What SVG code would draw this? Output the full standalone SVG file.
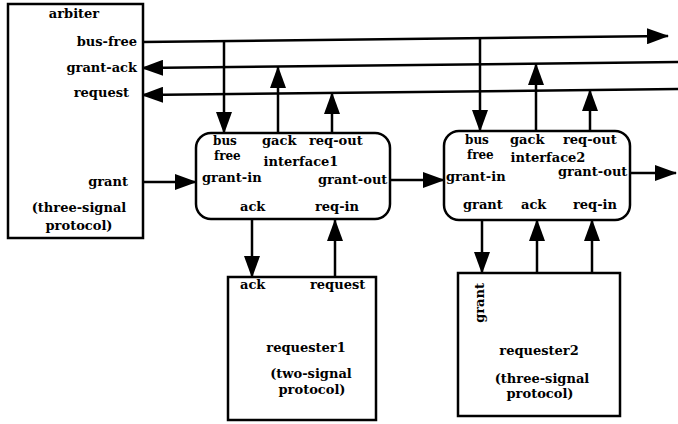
<svg xmlns="http://www.w3.org/2000/svg" width="678" height="424" viewBox="0 0 678 424">
<defs>
<marker id="ah" markerUnits="userSpaceOnUse" markerWidth="22" markerHeight="16" refX="21" refY="8" orient="auto">
<path d="M0,0 L22,8 L0,16 z" fill="#000"/>
</marker>
<style>
text{font-family:"DejaVu Serif","Liberation Serif",serif;font-weight:bold;font-size:13px;fill:#000}
.s{font-size:12px}
.m{text-anchor:middle}
.e{text-anchor:end}
.box{fill:#fff;stroke:#000;stroke-width:2.5}
.a{fill:none;stroke:#000;stroke-width:2.5;marker-end:url(#ah)}
</style>
</defs>
<rect width="678" height="424" fill="#fff"/>
<g id="connectors">
<path class="a" d="M142,42 L668,36"/>
<path class="a" d="M678,62 L142,68"/>
<path class="a" d="M678,89 L142,95"/>
<path class="a" d="M224,41 L224,133"/>
<path class="a" d="M278,133 L278,67"/>
<path class="a" d="M332,133 L332,93"/>
<path class="a" d="M142,182 L196,182"/>
<path class="a" d="M390,180 L444,180"/>
<path class="a" d="M480,38 L480,131"/>
<path class="a" d="M536,131 L536,64"/>
<path class="a" d="M590,131 L590,90"/>
<path class="a" d="M630,173 L676,173"/>
<path class="a" d="M252,219 L252,277"/>
<path class="a" d="M335,277 L335,220"/>
<path class="a" d="M482,220 L482,273"/>
<path class="a" d="M537,273 L537,220"/>
<path class="a" d="M592,273 L592,220"/>
</g>
<g id="arbiter">
<rect class="box" x="8" y="4" width="135" height="234"/>
<text class="m" x="74" y="18">arbiter</text>
<text class="e" x="137" y="46">bus-free</text>
<text class="e" x="137" y="72">grant-ack</text>
<text class="e" x="129" y="97">request</text>
<text class="e" x="128" y="186">grant</text>
<text class="m" x="79" y="212">(three-signal</text>
<text class="m" x="79" y="230">protocol)</text>
</g>
<g id="interface1">
<rect class="box" x="196" y="133" width="194" height="86" rx="15"/>
<text class="s" x="213" y="145">bus</text>
<text class="s" x="214" y="160">free</text>
<text x="262" y="145">gack</text>
<text x="309" y="145">req-out</text>
<text class="m" x="301" y="166">interface1</text>
<text x="202" y="182">grant-in</text>
<text x="318" y="184">grant-out</text>
<text x="240" y="211">ack</text>
<text x="315" y="211">req-in</text>
</g>
<g id="interface2">
<rect class="box" x="444" y="131" width="186" height="89" rx="15"/>
<text class="s" x="465" y="144">bus</text>
<text class="s" x="467" y="159">free</text>
<text x="510" y="144">gack</text>
<text x="563" y="144">req-out</text>
<text class="m" x="548" y="162">interface2</text>
<text x="446" y="181">grant-in</text>
<text x="558" y="176">grant-out</text>
<text x="463" y="209">grant</text>
<text x="521" y="209">ack</text>
<text x="573" y="209">req-in</text>
</g>
<g id="requester1">
<rect class="box" x="228" y="277" width="148" height="143"/>
<text x="240" y="289">ack</text>
<text x="310" y="289">request</text>
<text class="m" x="306" y="352">requester1</text>
<text class="m" x="311" y="378">(two-signal</text>
<text class="m" x="312" y="394">protocol)</text>
</g>
<g id="requester2">
<rect class="box" x="458" y="273" width="162" height="143"/>
<text class="e" transform="translate(484,283) rotate(-90)">grant</text>
<text class="m" x="539" y="355">requester2</text>
<text class="m" x="542" y="383">(three-signal</text>
<text class="m" x="540" y="398">protocol)</text>
</g>
</svg>
